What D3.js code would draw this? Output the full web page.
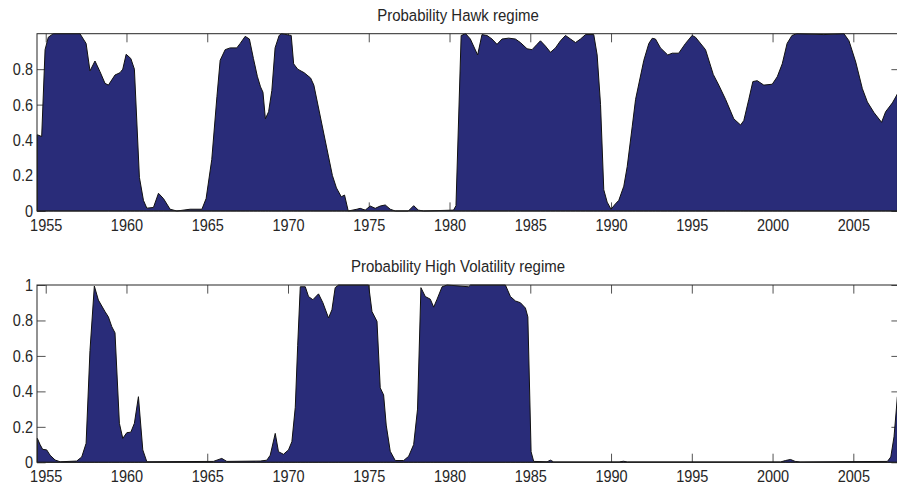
<!DOCTYPE html>
<html>
<head>
<meta charset="utf-8">
<script src="https://cdn.jsdelivr.net/npm/d3@7"></script>
<style>
  body { margin: 0; background: #fff; }
  svg { display: block; font-family: "Liberation Sans", Arial, sans-serif; }
  .stretch { transform-box: fill-box; transform-origin: center; transform: scaleY(1.15); }
</style>
</head>
<body>
<svg id="chart" width="897" height="487"></svg>
<script>
// quarterly-ish probabilities
const hawkYears = [1954.48,1954.75,1954.96,1955.16,1955.47,1957.12,1957.5,1957.74,1958.05,1958.36,1958.67,1958.88,1959.29,1959.6,1959.77,1959.98,1960.27,1960.49,1960.8,1961.05,1961.26,1961.67,1961.98,1962.29,1962.7,1963.12,1963.94,1964.67,1964.93,1965.28,1965.6,1965.8,1966.11,1966.42,1966.83,1967.04,1967.35,1967.61,1967.86,1968.1,1968.3,1968.45,1968.6,1968.8,1969.0,1969.2,1969.45,1969.6,1970.2,1970.35,1970.6,1971.0,1971.4,1971.6,1972.75,1973.0,1973.3,1973.5,1973.73,1974.27,1974.47,1974.78,1975.09,1975.4,1975.71,1976.02,1976.33,1976.64,1977.45,1977.78,1978.07,1978.4,1980.25,1980.4,1980.72,1981.0,1981.29,1981.74,1982.01,1982.32,1982.63,1982.94,1983.25,1983.66,1984.08,1984.39,1984.8,1985.11,1985.42,1985.63,1985.94,1986.25,1986.56,1986.87,1987.18,1987.49,1987.8,1988.11,1988.42,1988.93,1989.14,1989.35,1989.55,1989.76,1990.0,1990.27,1990.48,1990.79,1991.0,1991.31,1991.52,1992.03,1992.34,1992.55,1992.75,1993.06,1993.51,1993.79,1994.19,1994.61,1995.02,1995.23,1995.85,1996.33,1996.67,1997.09,1997.6,1998.02,1998.22,1998.53,1998.78,1999.05,1999.46,1999.98,2000.29,2000.6,2000.9,2001.2,2001.5,2003.18,2004.42,2004.73,2005.15,2005.56,2005.87,2006.28,2006.75,2007.0,2007.42,2007.73];
const hawkProb = [0.43,0.42,0.91,0.98,1.0,1.0,0.945,0.79,0.846,0.786,0.72,0.71,0.767,0.78,0.8,0.884,0.86,0.8,0.19,0.06,0.016,0.02,0.1,0.07,0.01,0.0,0.01,0.01,0.07,0.29,0.645,0.85,0.91,0.92,0.92,0.945,0.985,0.97,0.86,0.76,0.7,0.67,0.52,0.56,0.68,0.92,0.99,1.0,0.99,0.83,0.8,0.78,0.75,0.71,0.2,0.13,0.08,0.09,0.0,0.01,0.015,0.005,0.028,0.015,0.028,0.034,0.01,0.0,0.0,0.03,0.005,0.0,0.005,0.03,0.99,1.0,0.97,0.88,0.995,0.99,0.97,0.94,0.97,0.975,0.97,0.95,0.915,0.91,0.94,0.96,0.93,0.895,0.92,0.96,0.99,0.97,0.95,0.97,0.995,0.995,0.88,0.6,0.12,0.05,0.01,0.04,0.06,0.14,0.25,0.475,0.63,0.85,0.945,0.974,0.97,0.92,0.88,0.89,0.89,0.945,0.99,0.98,0.91,0.77,0.71,0.63,0.52,0.485,0.51,0.63,0.73,0.735,0.71,0.715,0.757,0.83,0.945,0.99,1.0,0.995,1.0,0.96,0.84,0.69,0.615,0.555,0.5,0.56,0.61,0.66];

const volYears = [1954.48,1954.65,1954.81,1955.06,1955.27,1955.58,1955.89,1956.92,1957.23,1957.5,1957.74,1958.01,1958.26,1958.67,1958.88,1959.09,1959.29,1959.56,1959.77,1960.02,1960.27,1960.49,1960.74,1961.01,1961.26,1965.38,1965.9,1966.21,1968.28,1968.69,1968.9,1969.21,1969.41,1969.72,1970.03,1970.24,1970.45,1970.6,1970.76,1971.07,1971.27,1971.54,1971.89,1972.16,1972.51,1972.72,1972.92,1973.13,1974.99,1975.2,1975.51,1975.71,1975.92,1976.08,1976.33,1976.64,1977.16,1977.47,1977.78,1978.02,1978.23,1978.5,1978.81,1979.02,1979.23,1979.54,1979.85,1981.18,1981.3,1983.46,1983.77,1984.08,1984.39,1984.7,1984.85,1985.05,1985.21,1986.04,1986.25,1986.45,1990.5,1990.77,1991.0,2000.5,2000.8,2001.11,2001.4,2001.7,2007.11,2007.32,2007.52,2007.73];
const volProb = [0.135,0.1,0.073,0.07,0.04,0.013,0.003,0.007,0.03,0.107,0.63,0.994,0.915,0.85,0.82,0.765,0.73,0.22,0.135,0.167,0.17,0.22,0.37,0.07,0.003,0.005,0.022,0.005,0.007,0.012,0.04,0.163,0.06,0.045,0.07,0.116,0.31,0.66,0.99,0.99,0.935,0.917,0.95,0.9,0.814,0.86,0.985,1.0,1.0,0.85,0.795,0.42,0.38,0.21,0.062,0.01,0.01,0.034,0.1,0.3,0.985,0.935,0.92,0.875,0.92,0.99,1.0,0.99,1.0,1.0,0.935,0.91,0.9,0.87,0.82,0.06,0.005,0.003,0.012,0.002,0.002,0.006,0.002,0.002,0.01,0.016,0.005,0.002,0.005,0.03,0.144,0.37];

const yearTicks = [1955,1960,1965,1970,1975,1980,1985,1990,1995,2000,2005];
const hawkTicks = [0,0.2,0.4,0.6,0.8];
const volTicks = [0,0.2,0.4,0.6,0.8,1];
const titles = ["Probability Hawk regime", "Probability High Volatility regime"];

const svg = d3.select("#chart");
const left = 37, right = 900, tick = 8.6;
const ink = "#262626";

const x = d3.scaleLinear().domain([1954.46, 2007.89]).range([left, right]);

const panels = [
  { top: 33.7, bottom: 211, years: hawkYears, prob: hawkProb, yTicks: hawkTicks, title: titles[0], titleY: 20 },
  { top: 285, bottom: 462.3, years: volYears, prob: volProb, yTicks: volTicks, title: titles[1], titleY: 271.5 }
];

panels.forEach(p => {
  const y = d3.scaleLinear().domain([0, 1]).range([p.bottom, p.top]);
  const g = svg.append("g");

  // ticks first so the filled area hides them (matlab layer bottom)
  const xb = g.append("g").attr("transform", `translate(0,${p.bottom})`)
    .call(d3.axisBottom(x).tickValues(yearTicks).tickFormat(d3.format("d")).tickSize(-tick).tickPadding(8.8));
  const xt = g.append("g").attr("transform", `translate(0,${p.top})`)
    .call(d3.axisTop(x).tickValues(yearTicks).tickFormat("").tickSize(-tick));
  const yl = g.append("g").attr("transform", `translate(${left},0)`)
    .call(d3.axisLeft(y).tickValues(p.yTicks).tickFormat(d3.format("~g")).tickSize(-tick).tickPadding(4));
  const yr = g.append("g").attr("transform", `translate(${right},0)`)
    .call(d3.axisRight(y).tickValues(p.yTicks).tickFormat("").tickSize(-tick));

  [xb, xt, yl, yr].forEach(a => {
    a.select(".domain").remove();
    a.selectAll("line").attr("stroke", ink).attr("stroke-width", 0.8);
    a.selectAll("text").attr("fill", ink).attr("font-size", 14.5)
      .attr("font-family", "Liberation Sans, Arial, sans-serif")
      .attr("class", "stretch");
  });

  const data = p.years.map((d, i) => [d, p.prob[i]]);
  const area = d3.area().x(d => x(d[0])).y0(y(0)).y1(d => y(d[1]));
  g.append("path").datum(data)
    .attr("d", area)
    .attr("fill", "#292c79")
    .attr("stroke", "#111")
    .attr("stroke-width", 1)
    .attr("stroke-linejoin", "round");

  // box
  g.append("rect")
    .attr("x", left).attr("y", p.top)
    .attr("width", right - left).attr("height", p.bottom - p.top)
    .attr("fill", "none").attr("stroke", ink).attr("stroke-width", 1);

  svg.append("text")
    .attr("x", 458).attr("y", p.titleY)
    .attr("text-anchor", "middle")
    .attr("font-size", 15)
    .attr("fill", ink)
    .attr("class", "stretch")
    .text(p.title);
});
</script>
</body>
</html>
